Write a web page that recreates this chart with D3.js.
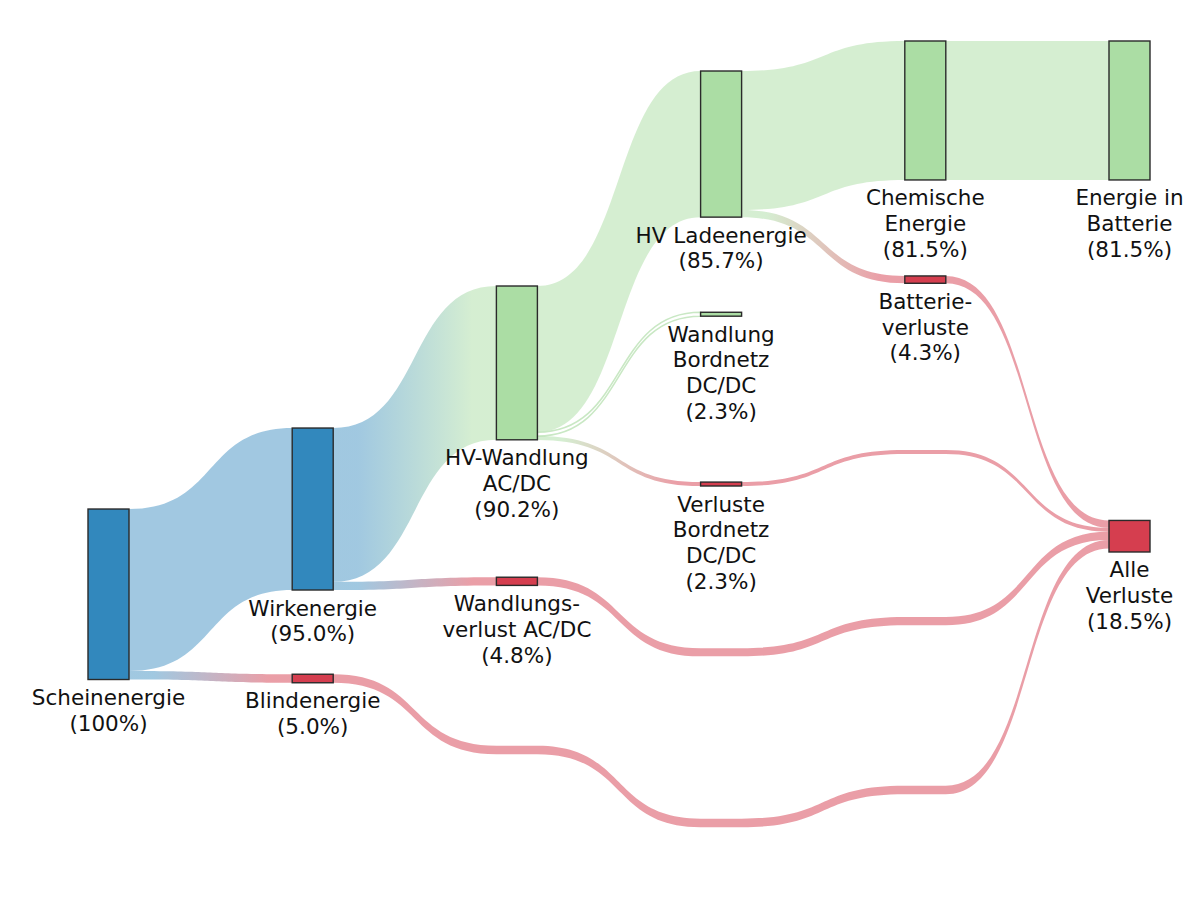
<!DOCTYPE html>
<html>
<head>
<meta charset="utf-8">
<script src="https://cdn.jsdelivr.net/npm/d3@7"></script>
<style>
  html, body { margin: 0; padding: 0; background: #fff; }
  svg { display: block; }
  text { font-family: "DejaVu Sans", sans-serif; }
</style>
</head>
<body>
<svg id="chart" width="1200" height="900"></svg>
<script>
// ---- data ----
const nodeIds    = ["schein","wirk","blind","hvw","wverl","hvl","wbn","vbn","chem","bverl","batt","alle"];
const nodeLabels = [
  ["Scheinenergie","(100%)"],
  ["Wirkenergie","(95.0%)"],
  ["Blindenergie","(5.0%)"],
  ["HV-Wandlung","AC/DC","(90.2%)"],
  ["Wandlungs-","verlust AC/DC","(4.8%)"],
  ["HV Ladeenergie","(85.7%)"],
  ["Wandlung","Bordnetz","DC/DC","(2.3%)"],
  ["Verluste","Bordnetz","DC/DC","(2.3%)"],
  ["Chemische","Energie","(81.5%)"],
  ["Batterie-","verluste","(4.3%)"],
  ["Energie in","Batterie","(81.5%)"],
  ["Alle","Verluste","(18.5%)"]
];
const nodeValues = [100, 95.0, 5.0, 90.2, 4.8, 85.7, 2.3, 2.3, 81.5, 4.3, 81.5, 18.5];
const nodeKinds  = ["input","input","loss","useful","loss","useful","useful","loss","useful","loss","useful","loss"];

const linkSources = ["schein","schein","wirk","wirk","hvw","hvw","hvw","hvl","hvl","chem","bverl","vbn","wverl","blind"];
const linkTargets = ["wirk","blind","hvw","wverl","hvl","wbn","vbn","chem","bverl","batt","alle","alle","alle","alle"];
const linkValues  = [95.0, 5.0, 90.2, 4.8, 85.7, 2.3, 2.3, 81.5, 4.3, 81.5, 4.3, 2.3, 4.8, 5.0];

// ---- layout (stage column and vertical offset in flow units) ----
const nodeColumn = [0, 1, 1, 2, 2, 3, 3, 3, 4, 4, 5, 5];
const nodeOffset = [274.5, 227.0, 371.4, 143.7, 314.5, 17.6, 159.1, 258.7, 0, 137.8, 0, 281.2];
// pass-through routes for links that skip stages: [column, offset]
const linkRoutes = {
  11: [[4, 239.9]],
  12: [[3, 356.1], [4, 337.8]],
  13: [[2, 413.3], [3, 456.1], [4, 436.8]]
};

const kindColor = { input: "#3288bd", useful: "#abdda4", loss: "#d53e4f" };

// ---- scales ----
const nodeWidth = 41;
const x = d3.scaleLinear().domain([0, 5]).range([88, 1109]);
const unit = 1.705;
const y = d3.scaleLinear().domain([0, 100]).range([41, 41 + 100 * unit]);
const h = v => y(v) - y(0);

const svg = d3.select("#chart");
const defs = svg.append("defs");

const nodes = nodeIds.map((id, i) => ({
  id, i, label: nodeLabels[i], value: nodeValues[i], kind: nodeKinds[i],
  col: nodeColumn[i], off: nodeOffset[i], outOff: 0, inOff: 0
}));
const byId = Object.fromEntries(nodes.map(n => [n.id, n]));

const links = linkSources.map((s, i) => ({
  i, source: byId[s], target: byId[linkTargets[i]], value: linkValues[i],
  route: linkRoutes[i] || []
}));

links.forEach(l => {
  l.sy = l.source.off + l.source.outOff; l.source.outOff += l.value;
});
const inSorted = links.slice().sort((a, b) => {
  const ay = a.route.length ? a.route[a.route.length - 1][1] : a.source.off;
  const by = b.route.length ? b.route[b.route.length - 1][1] : b.source.off;
  return ay - by;
});
inSorted.forEach(l => {
  l.ty = l.target.off + l.target.inOff; l.target.inOff += l.value;
});

function edge(pts) {
  let d = "";
  pts.forEach((p, k) => {
    if (k === 0) { d += `M${p.xl},${p.y}`; if (p.xr !== p.xl) d += `L${p.xr},${p.y}`; }
    else {
      const q = pts[k - 1];
      const dx = p.xl - q.xr;
      const c1 = q.xr + dx * 0.55, c2 = p.xl - dx * 0.55;
      d += `C${c1},${q.y} ${c2},${p.y} ${p.xl},${p.y}`;
      if (p.xr !== p.xl) d += `L${p.xr},${p.y}`;
    }
  });
  return d;
}

function linkPath(l) {
  const w = l.value;
  const segs = [{ xl: x(l.source.col) + nodeWidth, xr: x(l.source.col) + nodeWidth, u: l.sy }];
  l.route.forEach(([c, u]) => segs.push({ xl: x(c), xr: x(c) + nodeWidth, u }));
  segs.push({ xl: x(l.target.col), xr: x(l.target.col), u: l.ty });
  const top = segs.map(s => ({ xl: s.xl, xr: s.xr, y: y(s.u) }));
  const bot = segs.slice().reverse().map(s => ({ xl: s.xr, xr: s.xl, y: y(s.u + w) }));
  return edge(top) + edge(bot).replace(/^M/, "L") + "Z";
}

const linkOpacity = { input: 0.46, useful: 0.5, loss: 0.5 };

links.forEach(l => {
  const c0 = kindColor[l.source.kind], c1 = kindColor[l.target.kind];
  if (c0 !== c1) {
    const g = defs.append("linearGradient")
      .attr("id", "grad" + l.i)
      .attr("gradientUnits", "userSpaceOnUse")
      .attr("x1", x(l.source.col) + nodeWidth).attr("x2", x(l.target.col))
      .attr("y1", 0).attr("y2", 0);
    g.append("stop").attr("offset", "15%").attr("stop-color", c0).attr("stop-opacity", linkOpacity[l.source.kind]);
    g.append("stop").attr("offset", "85%").attr("stop-color", c1).attr("stop-opacity", linkOpacity[l.target.kind]);
    l.fill = `url(#grad${l.i})`;
    l.op = 1;
  } else { l.fill = c0; l.op = linkOpacity[l.source.kind]; }
});

svg.append("g").selectAll("path")
  .data(links)
  .join("path")
  .attr("d", linkPath)
  .attr("fill", l => l.target.id === "wbn" ? "#ffffff" : l.fill)
  .attr("fill-opacity", l => l.target.id === "wbn" ? 1 : l.op)
  .attr("stroke", l => l.target.id === "wbn" ? "#c9e8c4" : "none")
  .attr("stroke-width", 1.6);

const ng = svg.append("g").selectAll("g").data(nodes).join("g");
ng.append("rect")
  .attr("x", n => x(n.col))
  .attr("y", n => y(n.off))
  .attr("width", nodeWidth)
  .attr("height", n => h(n.value))
  .attr("fill", n => kindColor[n.kind])
  .attr("stroke", "#2a2a2a")
  .attr("stroke-width", 1.4);

const fs = 21.5, lh = 25.8;
ng.append("text")
  .attr("text-anchor", "middle")
  .attr("font-size", fs)
  .attr("fill", "#111")
  .each(function(n) {
    const t = d3.select(this);
    const cx = x(n.col) + nodeWidth / 2;
    const base = y(n.off + n.value) + 25.5;
    n.label.forEach((line, k) => {
      t.append("tspan").attr("x", cx).attr("y", base + k * lh).text(line);
    });
  });
</script>
</body>
</html>
